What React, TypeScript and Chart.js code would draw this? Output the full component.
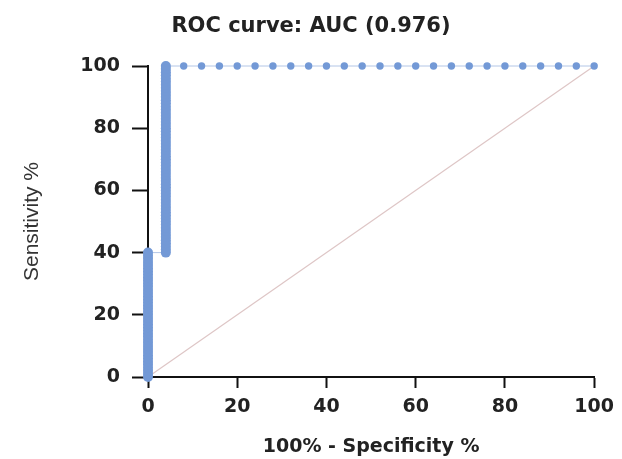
import React, { useEffect, useRef } from "react";
import { Chart, registerables } from "chart.js";

Chart.register(...registerables);

const titleText = "ROC curve: AUC (0.976)";
const xTitle = "100% - Specificity %";
const yTitle = "Sensitivity %";

// ROC curve: x = 100% - Specificity, y = Sensitivity
const stepAtZeroX = 0;
const sensAtZero = [
  0, 1, 2, 3, 4, 5, 6, 7, 8, 9, 10, 11, 12, 13, 14, 15, 16, 17, 18, 19, 20,
  21, 22, 23, 24, 25, 26, 27, 28, 29, 30, 31, 32, 33, 34, 35, 36, 37, 38, 39, 40,
];
const stepAtFourX = 4;
const sensAtFour = [
  40, 41, 42, 43, 44, 45, 46, 47, 48, 49, 50, 51, 52, 53, 54, 55, 56, 57, 58, 59, 60,
  61, 62, 63, 64, 65, 66, 67, 68, 69, 70, 71, 72, 73, 74, 75, 76, 77, 78, 79, 80,
  81, 82, 83, 84, 85, 86, 87, 88, 89, 90, 91, 92, 93, 94, 95, 96, 97, 98, 99, 100,
];
const plateauX = [8, 12, 16, 20, 24, 28, 32, 36, 40, 44, 48, 52, 56, 60, 64, 68, 72, 76, 80, 84, 88, 92, 96, 100];
const plateauSens = 100;

const diagX = [0, 100];
const diagY = [0, 100];

const xTicks = [0, 20, 40, 60, 80, 100];
const yTicks = [0, 20, 40, 60, 80, 100];

const titlePlugin = {
  id: "pageTitle",
  afterDraw(chart: any) {
    const c = chart.ctx;
    c.save();
    c.fillStyle = "#222222";
    c.font = "bold 21px 'DejaVu Sans'";
    c.textAlign = "center";
    c.textBaseline = "middle";
    c.fillText(titleText, chart.width / 2, 27);
    c.restore();
  },
};

export default function App() {
  const ref = useRef<HTMLCanvasElement | null>(null);
  useEffect(() => {
    if (!ref.current) return;
    const roc = [
      ...sensAtZero.map((y) => ({ x: stepAtZeroX, y })),
      ...sensAtFour.map((y) => ({ x: stepAtFourX, y })),
      ...plateauX.map((x) => ({ x, y: plateauSens })),
    ];
    const diag = diagX.map((x, i) => ({ x, y: diagY[i] }));
    const txt = "#222222";
    const chart = new Chart(ref.current, {
      type: "scatter",
      plugins: [titlePlugin],
      data: {
        datasets: [
          {
            data: roc,
            showLine: true,
            borderColor: "#b3c6e6",
            borderWidth: 1,
            backgroundColor: "#7399d6",
            pointBackgroundColor: "#7399d6",
            pointBorderWidth: 0,
            pointRadius: (ctx: any) => {
              const p = ctx.raw as any;
              return p && p.x < 6 ? 5 : 3.7;
            },
            clip: false as any,
            order: 0,
          },
          {
            data: diag,
            showLine: true,
            borderColor: "#dec6c6",
            borderWidth: 1.2,
            pointRadius: 0,
            order: 1,
          },
        ],
      },
      options: {
        animation: false,
        responsive: false,
        layout: { padding: { left: 0, right: 25, top: 66, bottom: 0 } },
        plugins: {
          legend: { display: false },
          tooltip: { enabled: false },
          title: { display: false },
        },
        scales: {
          x: {
            type: "linear",
            min: 0,
            max: 100,
            afterBuildTicks: (s: any) => {
              s.ticks = xTicks.map((v) => ({ value: v }));
            },
            afterFit: (s: any) => {
              s.height = 82;
            },
            ticks: {
              color: txt,
              padding: 8,
              font: { family: "'DejaVu Sans'", size: 19, weight: "bold" },
            },
            grid: {
              drawOnChartArea: false,
              drawTicks: true,
              tickLength: 11,
              tickWidth: 2,
              color: "#111111",
            },
            border: { display: true, color: "#111111", width: 2 },
            title: {
              display: true,
              text: xTitle,
              color: txt,
              font: { family: "'DejaVu Sans'", size: 19, weight: "bold" },
              padding: { top: 0, bottom: 1 },
            },
          },
          y: {
            type: "linear",
            min: 0,
            max: 100,
            afterBuildTicks: (s: any) => {
              s.ticks = yTicks.map((v) => ({ value: v }));
            },
            afterFit: (s: any) => {
              s.width = 148;
            },
            ticks: {
              color: txt,
              padding: 12,
              font: { family: "'DejaVu Sans'", size: 19, weight: "bold" },
            },
            grid: {
              drawOnChartArea: false,
              drawTicks: true,
              tickLength: 16,
              tickWidth: 2,
              color: "#111111",
            },
            border: { display: true, color: "#111111", width: 2 },
            title: {
              display: true,
              text: yTitle,
              color: "#333333",
              font: { family: "'Liberation Sans Narrow', 'Liberation Sans'", size: 21 },
              padding: { top: 20, bottom: 0 },
            },
          },
        },
      },
    });
    return () => chart.destroy();
  }, []);
  return (
    <div style={{ position: "absolute", left: 0, top: 0, width: 622, height: 459, background: "#fff" }}>
      <canvas ref={ref} width={622} height={459} style={{ display: "block" }} />
    </div>
  );
}
